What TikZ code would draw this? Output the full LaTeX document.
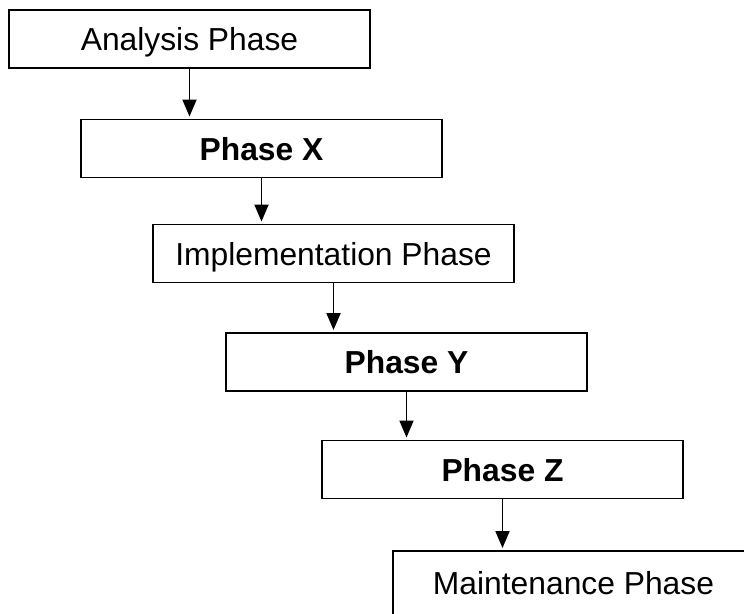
\documentclass[tikz,border=0pt]{standalone}
\usepackage{fontspec}
\setmainfont{Liberation Sans}
\usetikzlibrary{arrows.meta}
\begin{document}
\begin{tikzpicture}[x=1pt,y=-1pt,
  phasebox/.style={draw, line width=1.9pt, minimum width=361pt, minimum height=58pt,
    inner sep=0pt, text height=23pt, text depth=0pt, font=\fontsize{31.8}{36}\selectfont},
  boldbox/.style={phasebox, font=\fontsize{31.8}{36}\selectfont\bfseries},
  flow/.style={-{Triangle[width=14pt,length=17pt]}, line width=1.8pt, shorten >=2pt}]
\useasboundingbox (0,0) rectangle (744,613);
\clip (0,0) rectangle (744,613);
\node[phasebox] (a) at (189.5,39) {Analysis Phase};
\node[boldbox] (x) at (261.5,148.5) {Phase X};
\node[phasebox] (i) at (333.5,253.5) {Implementation Phase};
\node[boldbox] (y) at (406.5,362) {Phase Y};
\node[boldbox] (z) at (502.5,469.5) {Phase Z};
\node[phasebox, minimum height=64pt] (m) at (573.5,583) {Maintenance Phase};
\draw[flow] (a.south) -- (a.south |- x.north);
\draw[flow] (x.south) -- (x.south |- i.north);
\draw[flow] (i.south) -- (i.south |- y.north);
\draw[flow] (y.south) -- (y.south |- z.north);
\draw[flow] (z.south) -- (z.south |- m.north);
\end{tikzpicture}
\end{document}
